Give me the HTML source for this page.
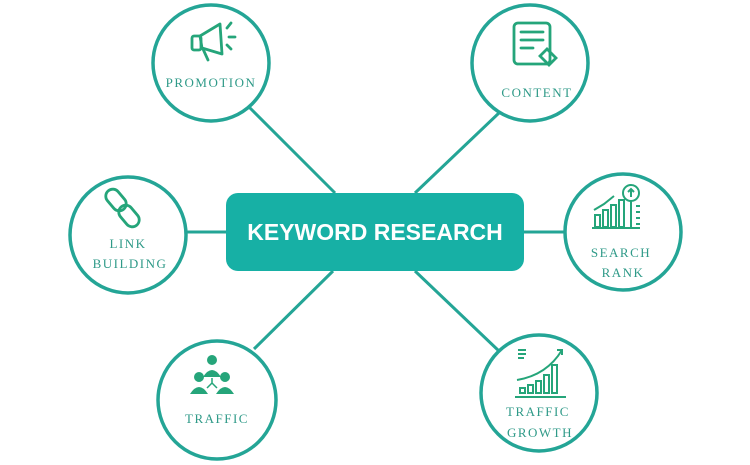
<!DOCTYPE html>
<html><head><meta charset="utf-8"><style>
html,body{margin:0;padding:0;background:#fff;}
svg{display:block}
.t{font-family:"Liberation Serif",serif;font-size:13px;fill:#2f9a88;letter-spacing:1.5px;text-anchor:middle}
</style></head><body>
<svg width="750" height="465" viewBox="0 0 750 465" xmlns="http://www.w3.org/2000/svg">
<g stroke="#24a596" stroke-width="3" fill="none">
<line x1="248" y1="106" x2="335" y2="193"/>
<line x1="500" y1="112" x2="415" y2="193"/>
<line x1="186" y1="232" x2="226" y2="232"/>
<line x1="524" y1="232" x2="566" y2="232"/>
<line x1="333" y1="271" x2="254" y2="349"/>
<line x1="415" y1="271" x2="500" y2="352"/>
<g stroke-width="3.5">
<circle cx="211" cy="63" r="58"/>
<circle cx="530" cy="63" r="58"/>
<circle cx="128" cy="235" r="58"/>
<circle cx="623" cy="232" r="58"/>
<circle cx="217" cy="400" r="59"/>
<circle cx="539" cy="393" r="58"/>
</g>
</g>
<rect x="226" y="193" width="298" height="78" rx="12" fill="#17b0a5"/>
<text x="375" y="240" fill="#fff" font-family="Liberation Sans,sans-serif" font-weight="bold" font-size="23" text-anchor="middle">KEYWORD RESEARCH</text>

<!-- promotion icon -->
<g stroke="#25a57a" stroke-width="2.8" fill="none" stroke-linejoin="round" stroke-linecap="round">
<path d="M200 36 L220 24 L222 54 L202 48 Z"/>
<rect x="192" y="36" width="9" height="14" rx="2"/>
<path d="M203 49 L208 60"/>
<path d="M227 28 l4 -5 M229 37 h6 M227 45 l4 4"/>
</g>
<text class="t" x="211" y="87">PROMOTION</text>

<!-- content icon -->
<g stroke="#25a57a" stroke-width="2.8" fill="none" stroke-linecap="round">
<rect x="514" y="23" width="36" height="41" rx="4"/>
<path d="M521 32h22M521 40h22M521 48h12"/>
<path d="M540 56 l7 -7 l9 9 l-7 7 z"/>
</g>
<text class="t" x="537" y="97">CONTENT</text>

<!-- link icon -->
<g stroke="#25a57a" stroke-width="2.8" fill="none">
<rect x="109" y="188" width="14" height="24" rx="7" transform="rotate(-40 116 200)"/>
<rect x="122" y="204" width="14" height="24" rx="7" transform="rotate(-40 129 216)"/>
</g>
<text class="t" x="128" y="248">LINK</text>
<text class="t" x="130" y="268">BUILDING</text>

<!-- search rank icon -->
<g stroke="#25a57a" stroke-width="2" fill="none">
<rect x="595" y="215" width="5" height="12"/><rect x="603" y="210" width="5" height="17"/>
<rect x="611" y="205" width="5" height="22"/><rect x="619" y="200" width="5" height="27"/>
<circle cx="631" cy="193" r="8"/><path d="M631 197v-8M628 192l3-3 3 3"/>
<path d="M631 201v26M636 206h4M636 212h4M636 218h4M636 224h4"/>
<path d="M594 210 l10 -6 l10 -8"/><path d="M592 228h48"/>
</g>
<text class="t" x="621" y="257">SEARCH</text>
<text class="t" x="623" y="277">RANK</text>

<!-- traffic icon -->
<g fill="#25a57a">
<circle cx="212" cy="360" r="5"/><path d="M203 377 q9 -14 18 0 z"/>
<circle cx="199" cy="377" r="5"/><path d="M190 394 q9 -14 18 0 z"/>
<circle cx="225" cy="377" r="5"/><path d="M216 394 q9 -14 18 0 z"/>
</g>
<path d="M212 378 v5 M207 388 l5 -5 l5 5" stroke="#25a57a" stroke-width="1.5" fill="none"/>
<text class="t" x="217" y="423">TRAFFIC</text>

<!-- growth icon -->
<g stroke="#25a57a" stroke-width="2" fill="none">
<path d="M518 350h8M518 354h8M518 358h6"/>
<rect x="520" y="388" width="5" height="5"/><rect x="528" y="385" width="5" height="8"/>
<rect x="536" y="381" width="5" height="12"/><rect x="544" y="375" width="5" height="18"/>
<rect x="552" y="365" width="5" height="28"/>
<path d="M517 380 q30 -5 45 -30 M557 350 l5 0 l0 5"/>
<path d="M515 397h51"/>
</g>
<text class="t" x="538" y="416">TRAFFIC</text>
<text class="t" x="540" y="437">GROWTH</text>
</svg>
</body></html>
